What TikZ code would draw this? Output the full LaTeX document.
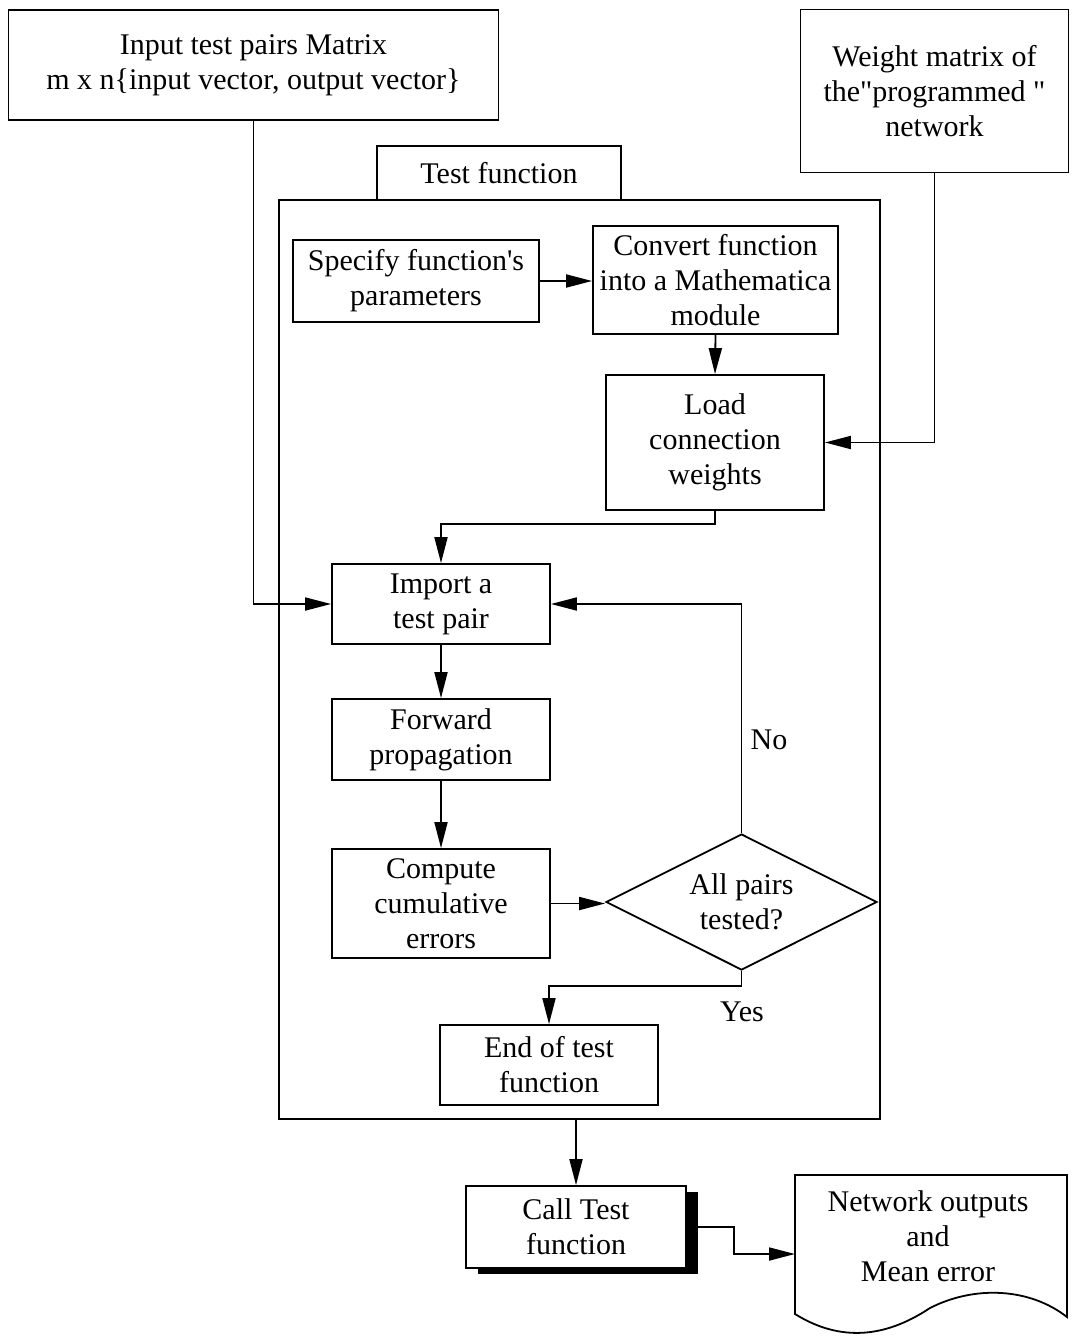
\documentclass[tikz,border=0pt]{standalone}
\usepackage{fontspec}
\setmainfont{Liberation Serif}[Ligatures=TeXOff]
\usetikzlibrary{arrows.meta,shapes.geometric,shadows}

\tikzset{
  box/.style={draw, line width=1.8pt, rectangle, inner sep=0pt, align=center},
  decision/.style={draw, line width=1.8pt, diamond, aspect=2, inner sep=0pt, align=center},
  label/.style={inner sep=0pt, align=center},
  arr/.style={line width=1.8pt, -{Triangle[length=26pt,width=13pt]}},
  wire/.style={line width=1.8pt},
}

\begin{document}
\begin{tikzpicture}[x=1pt, y=-1pt, font=\fontsize{30}{35}\selectfont]
\useasboundingbox (0,0) rectangle (1074,1336);

% sources of data
\node[box, minimum width=490pt, minimum height=110pt] (inp) at (253.5,65)
  {Input test pairs Matrix\\m x n\{input vector, output vector\}};
\node[box, minimum width=268pt, minimum height=163pt] (wgt) at (934.5,91)
  {Weight matrix of\\the"programmed "\\network};

% the test function frame with its title tab
\node[box, minimum width=244pt, minimum height=54pt] (tab) at (499,173) {Test function};
\node[box, minimum width=601pt, minimum height=919pt] (big) at (579.5,659.5) {};

% steps inside the frame
\node[box, minimum width=246pt, minimum height=82pt] (spec) at (416,281)
  {Specify function's\\parameters};
\node[box, minimum width=245pt, minimum height=108pt] (conv) at (715.5,280)
  {Convert function\\into a Mathematica\\module};
\node[box, minimum width=218pt, minimum height=135pt] (load) at (715,442.5)
  {Load\\connection\\weights};
\node[box, minimum width=218pt, minimum height=80pt] (imp) at (441,604)
  {Import a\\test pair};
\node[box, minimum width=218pt, minimum height=81pt] (fwd) at (441,739.5)
  {Forward\\propagation};
\node[box, minimum width=218pt, minimum height=109pt] (comp) at (441,903.5)
  {Compute\\cumulative\\errors};
\node[decision, minimum width=271pt, minimum height=136pt] (dia) at (741.5,902)
  {All pairs\\tested?};
\node[box, minimum width=218pt, minimum height=80pt] (endn) at (549,1065)
  {End of test\\function};

% call and result
\node[box, fill=white, minimum width=220pt, minimum height=82pt,
      drop shadow={shadow xshift=12pt, shadow yshift=-6pt, fill=black, opacity=1}]
  (call) at (576,1227) {Call Test\\function};
\draw[wire] (795,1175) -- (1067,1175) -- (1067,1317)
  .. controls (1030,1288) and (975,1285) .. (930,1308)
  .. controls (885,1338) and (840,1342) .. (795,1314) -- cycle;
\node[label] (doc) at (928,1236) {Network outputs\\and\\Mean error};
\coordinate (docin) at (795,1254);

% connectors
\draw[arr] (inp.south) |- (imp.west);
\draw[arr] (wgt.south) |- (load.east);
\draw[arr] (spec.east) -- (spec.east -| conv.west);
\draw[arr] (conv.south) -- (load.north);
\draw[arr] (load.south) -- ++(0,13) -| (imp.north);
\draw[arr] (imp.south) -- (fwd.north);
\draw[arr] (fwd.south) -- (comp.north);
\draw[arr] (comp.east) -- (comp.east -| dia.west);
\draw[arr] (dia.north) |- (imp.east);
\draw[arr] (dia.south) -- ++(0,15) -| (endn.north);
\draw[arr] (call.north |- big.south) -- (call.north);
\draw[arr] (call.east) -- ++(47,0) |- (docin);

% branch labels
\node[label] (no) at (769,740) {No};
\node[label] (yes) at (742,1012) {Yes};
\end{tikzpicture}
\end{document}
